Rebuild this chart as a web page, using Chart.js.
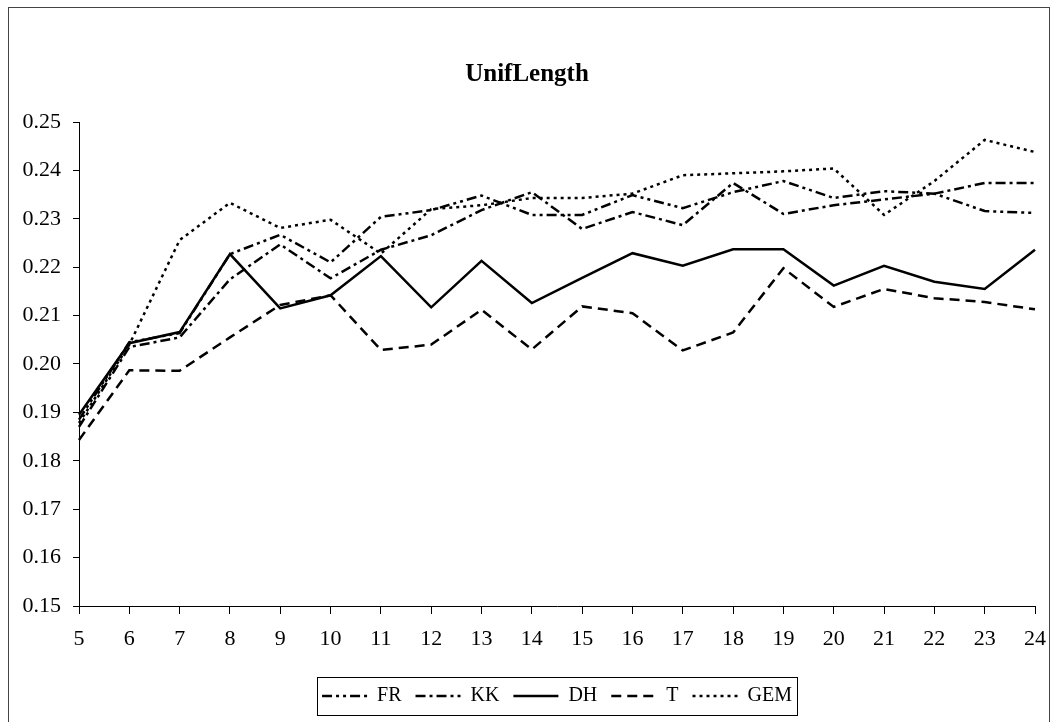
<!DOCTYPE html>
<html>
<head>
<meta charset="utf-8">
<script src="https://cdn.jsdelivr.net/npm/chart.js@4"></script>
<style>
    body { margin: 0; background: #fff; }
    #frame {
        position: absolute; left: 8px; top: 7px;
        width: 1040px; height: 718px;
        border: 1px solid #444;
    }
</style>
</head>
<body>
<div id="frame"><canvas id="myChart" width="1040" height="718"></canvas></div>
<script>
// x categories (tick labels)
const xLabels = ["5", "6", "7", "8", "9", "10", "11", "12", "13", "14", "15", "16", "17", "18", "19", "20", "21", "22", "23", "24"];

// series values
const frValues = [0.1885, 0.2045, 0.2064, 0.2227, 0.2267, 0.2210, 0.2304, 0.2318, 0.2348, 0.2308, 0.2308, 0.2349, 0.2322, 0.2355, 0.2378, 0.2343, 0.2357, 0.2352, 0.2316, 0.2312];
const kkValues = [0.1870, 0.2035, 0.2055, 0.2175, 0.2247, 0.2177, 0.2236, 0.2266, 0.2318, 0.2355, 0.2279, 0.2314, 0.2287, 0.2374, 0.2310, 0.2328, 0.2340, 0.2352, 0.2374, 0.2374];
const dhValues = [0.1895, 0.2043, 0.2066, 0.2227, 0.2115, 0.2142, 0.2223, 0.2117, 0.2213, 0.2126, 0.2178, 0.2229, 0.2203, 0.2237, 0.2237, 0.2162, 0.2203, 0.2170, 0.2155, 0.2236];
const tValues = [0.1843, 0.1987, 0.1986, 0.2055, 0.2122, 0.2142, 0.2029, 0.2040, 0.2112, 0.2030, 0.2119, 0.2105, 0.2028, 0.2065, 0.2198, 0.2118, 0.2155, 0.2136, 0.2128, 0.2113];
const gemValues = [0.1878, 0.2040, 0.2256, 0.2333, 0.2281, 0.2298, 0.2228, 0.2320, 0.2328, 0.2343, 0.2343, 0.2352, 0.2390, 0.2394, 0.2398, 0.2404, 0.2308, 0.2378, 0.2463, 0.2438];

const serif = "'Liberation Serif', 'Times New Roman', serif";

function line(label, data, dash) {
    return {
        label: label,
        data: data,
        borderColor: "#000",
        backgroundColor: "#000",
        borderWidth: 2.5,
        borderDash: dash,
        pointRadius: 0,
        tension: 0,
        fill: false
    };
}

// box round the legend items
const legendFrame = {
    id: "legendFrame",
    afterDraw(chart) {
        const boxes = chart.legend.legendHitBoxes;
        if (!boxes || !boxes.length) return;
        let left = Infinity, right = -Infinity, top = Infinity, bottom = -Infinity;
        boxes.forEach(b => {
            left = Math.min(left, b.left);
            right = Math.max(right, b.left + b.width);
            top = Math.min(top, b.top);
            bottom = Math.max(bottom, b.top + b.height);
        });
        const ctx = chart.ctx;
        ctx.save();
        ctx.strokeStyle = "#000";
        ctx.lineWidth = 1;
        ctx.strokeRect(Math.round(left - 5) + 0.5, Math.round(top - 9) + 0.5,
            Math.round(right - left + 10), Math.round(bottom - top + 18));
        ctx.restore();
    }
};

const ctx = document.getElementById("myChart");

new Chart(ctx, {
    type: "line",
    data: {
        labels: xLabels,
        datasets: [
            line("FR", frValues, [10, 4, 3, 4, 3, 4]),
            line("KK", kkValues, [10, 4, 3, 4]),
            line("DH", dhValues, []),
            line("T", tValues, [10, 6]),
            line("GEM", gemValues, [3, 4])
        ]
    },
    options: {
        responsive: false,
        animation: false,
        layout: { padding: { left: 0, right: 4, top: 0, bottom: 10 } },
        plugins: {
            title: {
                display: true,
                text: "UnifLength",
                color: "#000",
                font: { family: serif, size: 25, weight: "bold" },
                padding: { top: 52, bottom: 32 }
            },
            legend: {
                position: "bottom",
                fullSize: false,
                labels: {
                    color: "#000",
                    font: { family: serif, size: 20 },
                    usePointStyle: true,
                    pointStyle: "line",
                    pointStyleWidth: 45,
                    padding: 14,
                    generateLabels: chart => {
                        const items = Chart.defaults.plugins.legend.labels.generateLabels(chart);
                        items.forEach(item => {
                            const ds = chart.data.datasets[item.datasetIndex];
                            item.lineDash = ds.borderDash;
                            item.lineWidth = 2.5;
                            item.strokeStyle = "#000";
                        });
                        return items;
                    }
                }
            },
            tooltip: { enabled: false }
        },
        scales: {
            x: {
                type: "category",
                offset: false,
                afterFit: scale => {
                    scale.height = 66;
                    scale.paddingLeft = 0;
                    scale.paddingRight = 14;
                },
                grid: { display: true, drawOnChartArea: false, drawTicks: true, tickLength: 8, color: "#000", offset: false },
                border: { display: true, color: "#000", width: 1 },
                ticks: { color: "#000", font: { family: serif, size: 22 }, padding: 12, autoSkip: false, maxRotation: 0 }
            },
            y: {
                min: 0.15,
                max: 0.25,
                afterFit: scale => { scale.width = 70; },
                grid: { display: true, drawOnChartArea: false, drawTicks: true, tickLength: 6, color: "#000" },
                border: { display: true, color: "#000", width: 1 },
                ticks: {
                    stepSize: 0.01,
                    color: "#000",
                    font: { family: serif, size: 22 },
                    padding: 12,
                    callback: v => v.toFixed(2)
                }
            }
        }
    },
    plugins: [legendFrame]
});
</script>
</body>
</html>
